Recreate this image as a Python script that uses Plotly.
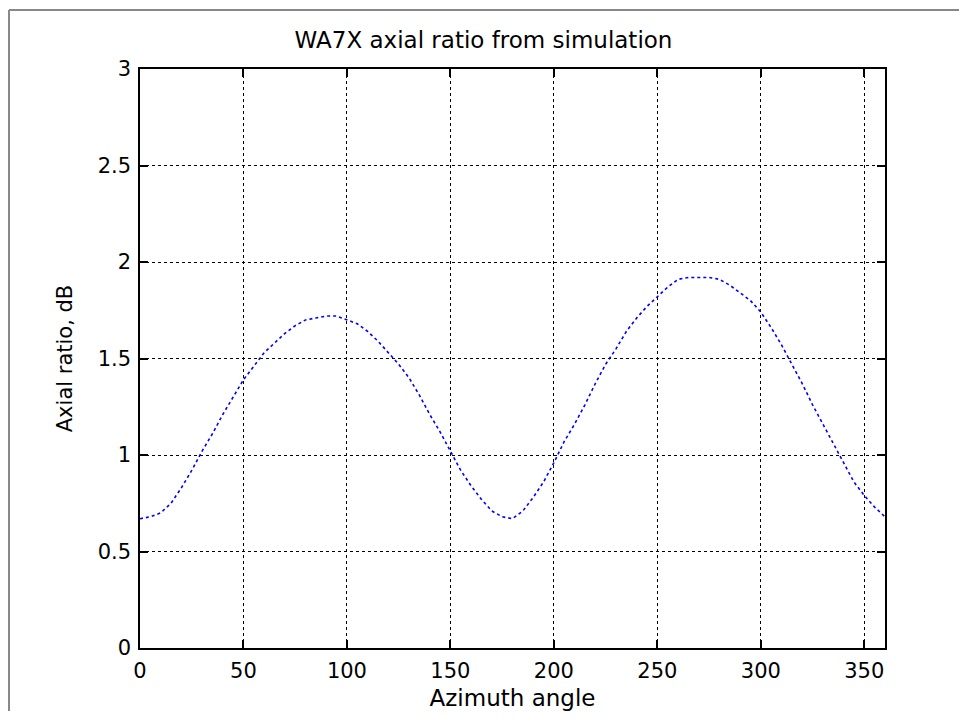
import plotly.graph_objects as go

azimuth = list(range(0, 361, 5))
axial_ratio = [
    0.67, 0.68, 0.70, 0.75, 0.83, 0.92, 1.02, 1.11, 1.21, 1.30,
    1.39, 1.46, 1.53, 1.58, 1.63, 1.67, 1.70, 1.71, 1.72, 1.72,
    1.70, 1.68, 1.64, 1.59, 1.53, 1.47, 1.40, 1.31, 1.21, 1.12,
    1.02, 0.92, 0.84, 0.77, 0.71, 0.68, 0.67, 0.71, 0.78, 0.86,
    0.96, 1.07, 1.16, 1.26, 1.37, 1.47, 1.55, 1.64, 1.71, 1.77,
    1.82, 1.87, 1.91, 1.92, 1.92, 1.92, 1.91, 1.88, 1.84, 1.80,
    1.74, 1.66, 1.57, 1.47, 1.37, 1.26, 1.16, 1.06, 0.96, 0.86,
    0.79, 0.73, 0.68,
]
x_ticks = [0, 50, 100, 150, 200, 250, 300, 350]
y_ticks = [0, 0.5, 1, 1.5, 2, 2.5, 3]
y_tick_text = ["0", "0.5", "1", "1.5", "2", "2.5", "3"]

W, H = 951, 703
L, T, R, B = 132, 61, 74, 63
PW, PH = W - L - R, H - T - B

fig = go.Figure()
fig.add_trace(go.Scatter(
    x=azimuth, y=axial_ratio, mode="lines",
    line=dict(color="#0000ff", width=1.6, dash="dot"),
    showlegend=False,
))

font = dict(family="DejaVu Sans, sans-serif", size=21, color="black")
font_wide = dict(family="DejaVu Sans, sans-serif", size=23, color="black")

axis_common = dict(
    showline=True, linecolor="black", linewidth=1.5, mirror="ticks",
    ticks="inside", ticklen=8, tickwidth=1.5, tickcolor="black",
    showgrid=True, gridcolor="black", gridwidth=1.3, griddash="3px,3px",
    zeroline=False, tickfont=font, ticklabelstandoff=3,
)

fig.update_layout(
    width=W, height=H,
    paper_bgcolor="white", plot_bgcolor="white",
    margin=dict(l=L, r=R, t=T, b=B, autoexpand=False),
    title=dict(text="WA7X axial ratio from simulation", x=0.5, xanchor="center",
               y=1 - 32 / H, yanchor="middle", font=font_wide),
    xaxis=dict(range=[0, 360], tickvals=x_ticks, automargin=False,
               title=dict(text="Azimuth angle", font=font_wide, standoff=8), **axis_common),
    yaxis=dict(range=[0, 3], tickvals=y_ticks, ticktext=y_tick_text, automargin=False,
               title=dict(text="Axial ratio, dB", font=font, standoff=19), **axis_common),
    shapes=[
        dict(type="line", xref="paper", yref="paper",
             x0=(1 - L) / PW, x1=1 + R / PW, y0=1 + (T - 2) / PH, y1=1 + (T - 2) / PH,
             line=dict(color="#888888", width=2)),
        dict(type="line", xref="paper", yref="paper",
             x0=(1 - L) / PW, x1=(1 - L) / PW, y0=-B / PH, y1=1 + (T - 2) / PH,
             line=dict(color="#888888", width=2)),
    ],
)

fig.write_html("out.html")
